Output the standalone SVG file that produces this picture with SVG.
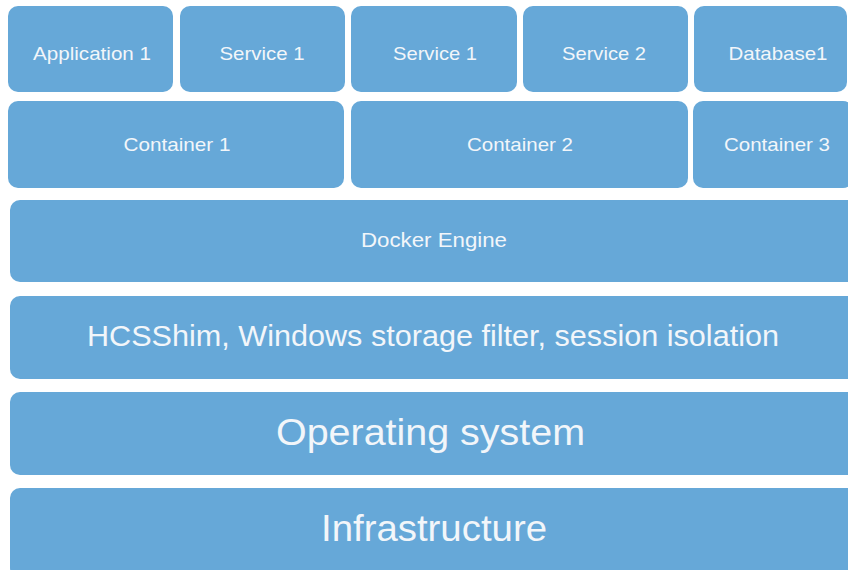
<svg xmlns="http://www.w3.org/2000/svg" width="848" height="570" viewBox="0 0 848 570">
<style>
.b{fill:#66a8d8;}
.t{fill:#f2f6fa;font-family:"Liberation Sans",Arial,sans-serif;text-anchor:middle;}
.s{font-size:19px;}
</style>
<rect width="848" height="570" fill="#ffffff"/>
<g id="app1"><rect class="b" x="8" y="6" width="165" height="86" rx="10"/><text class="t s" x="92" y="60" textLength="118" lengthAdjust="spacingAndGlyphs">Application 1</text></g>
<g id="svc1a"><rect class="b" x="180" y="6" width="165" height="86" rx="10"/><text class="t s" x="262" y="60" textLength="85" lengthAdjust="spacingAndGlyphs">Service 1</text></g>
<g id="svc1b"><rect class="b" x="351" y="6" width="166" height="86" rx="10"/><text class="t s" x="435" y="60" textLength="84" lengthAdjust="spacingAndGlyphs">Service 1</text></g>
<g id="svc2"><rect class="b" x="523" y="6" width="165" height="86" rx="10"/><text class="t s" x="604" y="60" textLength="84" lengthAdjust="spacingAndGlyphs">Service 2</text></g>
<g id="db1"><rect class="b" x="694" y="6" width="153" height="86" rx="10"/><text class="t s" x="778" y="60" textLength="99" lengthAdjust="spacingAndGlyphs">Database1</text></g>
<g id="c1"><rect class="b" x="8" y="101" width="336" height="87" rx="10"/><text class="t s" x="177" y="151" textLength="107" lengthAdjust="spacingAndGlyphs">Container 1</text></g>
<g id="c2"><rect class="b" x="351" y="101" width="337" height="87" rx="10"/><text class="t s" x="520" y="151" textLength="106" lengthAdjust="spacingAndGlyphs">Container 2</text></g>
<g id="c3"><rect class="b" x="693" y="101" width="160" height="87" rx="10"/><text class="t s" x="777" y="151" textLength="106" lengthAdjust="spacingAndGlyphs">Container 3</text></g>
<g id="docker"><rect class="b" x="10" y="200" width="848" height="82" rx="10"/><text class="t" x="434" y="247" font-size="19.5" textLength="146" lengthAdjust="spacingAndGlyphs">Docker Engine</text></g>
<g id="hcs"><rect class="b" x="10" y="296" width="848" height="83" rx="10"/><text class="t" x="433" y="346" font-size="29" textLength="692" lengthAdjust="spacingAndGlyphs">HCSShim, Windows storage filter, session isolation</text></g>
<g id="os"><rect class="b" x="10" y="392" width="848" height="83" rx="10"/><text class="t" x="430.5" y="445" font-size="37.5" textLength="309" lengthAdjust="spacingAndGlyphs">Operating system</text></g>
<g id="infra"><rect class="b" x="10" y="488" width="848" height="90" rx="10"/><text class="t" x="434" y="541" font-size="36" textLength="226" lengthAdjust="spacingAndGlyphs">Infrastructure</text></g>
<g id="connectors"></g>
</svg>
